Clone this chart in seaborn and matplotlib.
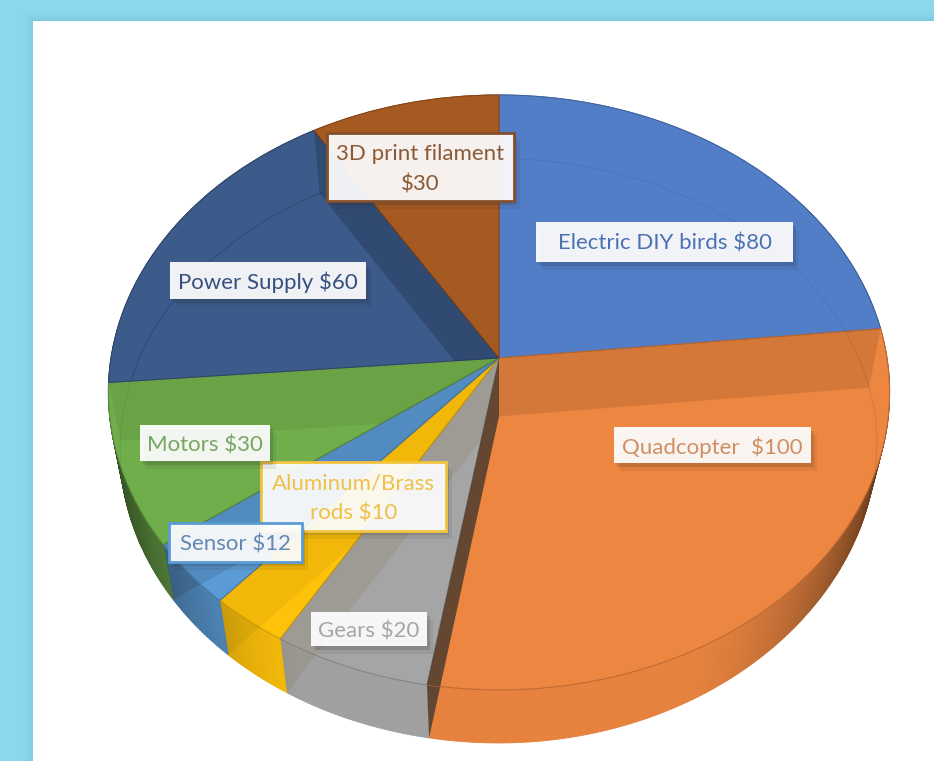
import numpy as np
import matplotlib
matplotlib.use("Agg")
import matplotlib.pyplot as plt
import matplotlib.patheffects as pe
from matplotlib.collections import PolyCollection
from matplotlib.patches import Polygon, Rectangle
from matplotlib.path import Path
from matplotlib.transforms import Transform
import seaborn as sns

sns.set_theme(style="white")
plt.rcParams["font.family"] = ["Lato", "DejaVu Sans"]

# Project budget
items = ["Electric DIY birds", "Quadcopter ", "Gears", "Aluminum/Brass\nrods", "Sensor",
         "Motors", "Power Supply", "3D print filament"]
costs = [80, 100, 20, 10, 12, 30, 60, 30]
label_seps = [" ", " ", " ", " ", " ", " ", " ", "\n"]
slice_colors = ["#527ec7", "#ed8640", "#a5a5a5", "#ffc20a", "#5b9bd5", "#70ae4b", "#3c5a8a", "#a55a22"]
text_colors = ["#4a72b0", "#cf8f63", "#a6a6a6", "#efc04a", "#6488b4", "#76a661", "#34507e", "#8b5a34"]
edge_colors = [None, None, None, "#f3c53f", "#5b9bd5", None, None, "#84502a"]
# Left, top, right, bottom of each label plate, in image pixels
plates = [(536, 222, 793, 262), (614, 427, 811, 463), (311, 612, 427, 646), (261, 462, 446, 531),
          (169, 523, 302, 562), (140, 425, 270, 461), (170, 262, 366, 299), (327, 133, 514, 201)]
# Strength and tint of the inner cut face along each slice boundary, clockwise from twelve o'clock
cut_alpha = [0.0, 0.10, 0.78, 0.16, 0.05, 0.10, 0.06, 0.17]
cut_tone = ["black", "black", "#3d352e", "#7a6a40", "black", "black", "black", "black"]
# Visibility of the far lower edge through each slice
ring_alpha = [0.10, 0.12, 0.0, 0.0, 0.0, 0.10, 0.32, 0.0]

WIDTH, HEIGHT = 934, 761
CX, CY, AX, BY, K = 499.0, 358.0, 388.0, 293.5, 0.1158


def project(u, v):
    """Perspective view of the unit disc, in image pixels."""
    u, v = np.asarray(u, float), np.asarray(v, float)
    d = 1 + K * v
    return CX + AX * u / d, CY - BY * v / d


def project_low(u, v):
    """The same disc at the underside of the slab."""
    u, v = np.asarray(u, float), np.asarray(v, float)
    x, y = project(u, v)
    skew = 12 * np.clip(u, 0, None) * np.clip(-v, 0, None)
    return CX + (x - CX) * 0.97 - skew, y + 58.4 + 5.4 * v


class TiltedDisc(Transform):
    input_dims = output_dims = 2
    has_inverse = False

    def transform_non_affine(self, values):
        values = np.asarray(values, float)
        return np.column_stack(project(values[:, 0], values[:, 1]))


fig = plt.figure(figsize=(WIDTH / 100, HEIGHT / 100), dpi=100)
ax = fig.add_axes([0, 0, 1, 1])

palette = sns.color_palette(slice_colors)
wedges, _ = ax.pie(costs, colors=palette, startangle=90, counterclock=False, radius=1.0)
ax.set_aspect("auto")
ax.set_xlim(0, WIDTH)
ax.set_ylim(HEIGHT, 0)
ax.set_axis_on()
ax.set_xticks([])
ax.set_yticks([])
for side in ax.spines.values():
    side.set_visible(False)
ax.set_facecolor("#8bd8ee")

# White page with a soft shadow along its edge
for grow, a in zip([10, 7, 4, 2], [0.025, 0.03, 0.035, 0.04]):
    ax.add_patch(Rectangle((33 - grow, 21 - grow), WIDTH, HEIGHT, fc="#3a7f95", ec="none", alpha=a, zorder=0.1))
ax.add_patch(Rectangle((33, 21), WIDTH, HEIGHT, fc="white", ec="none", zorder=0.2))

tilted = TiltedDisc() + ax.transData
darker = lambda c, f: tuple(min(1, x * f) for x in c)

# Outer rim of the slab, shaded towards both sides
rim_paths = []
for wedge, color in zip(wedges, palette):
    th = np.radians(np.linspace(wedge.theta1, wedge.theta2, max(3, int(wedge.theta2 - wedge.theta1) * 2)))
    tx, ty = project(np.cos(th), np.sin(th))
    lx, ly = project_low(np.cos(th), np.sin(th))
    quads, shades = [], []
    for i in range(len(th) - 1):
        quads.append([(tx[i], ty[i]), (tx[i + 1], ty[i + 1]), (lx[i + 1], ly[i + 1]), (lx[i], ly[i])])
        side = abs(np.cos(0.5 * (th[i] + th[i + 1])))
        f = 0.97 - 0.56 * np.clip((side - 0.45) / 0.55, 0, 1) ** 1.5
        shades.append(darker(color, f))
    ax.add_collection(PolyCollection(quads, facecolors=shades, edgecolors=shades, linewidths=0.6, zorder=1))
    outline = np.vstack([np.column_stack([tx, ty]), np.column_stack([lx, ly])[::-1]])
    rim_paths.append(Path(np.vstack([outline, outline[0]]), closed=True))

# Top face of the slab
for wedge, color in zip(wedges, palette):
    wedge.set_transform(tilted)
    wedge.set_zorder(2)
    wedge.set_edgecolor(darker(color, 0.8))
    wedge.set_linewidth(0.8)

# Cut faces showing through the top and the rim, each clipped to its own slice
edges = 90 - np.cumsum([0] + costs[:-1]) / sum(costs) * 360
for k, theta in enumerate(edges):
    if cut_alpha[k] == 0:
        continue
    u, v = np.cos(np.radians(theta)), np.sin(np.radians(theta))
    face = [project(0, 0), project(u, v), project_low(u, v), project_low(0, 0)]
    for idx in (k, k - 1):
        on_top = Polygon(face, closed=True, fc=cut_tone[k], ec="none", alpha=cut_alpha[k], zorder=3)
        ax.add_patch(on_top)
        on_top.set_clip_path(wedges[idx])
        on_rim = Polygon(face, closed=True, fc=cut_tone[k], ec="none", alpha=cut_alpha[k], zorder=1.5)
        ax.add_patch(on_rim)
        on_rim.set_clip_path(rim_paths[idx], ax.transData)

# Far lower edge of the slab, faintly visible through the top
sweep = np.radians(np.linspace(0, 360, 361))
rx, ry = project_low(np.cos(sweep), np.sin(sweep))
for wedge, strength in zip(wedges, ring_alpha):
    if strength > 0:
        line, = ax.plot(rx, ry, color="#1d2f55", lw=0.8, alpha=strength, zorder=3)
        line.set_clip_path(wedge)
ax.set_xlim(0, WIDTH)
ax.set_ylim(HEIGHT, 0)

# Value labels on white plates
for name, cost, sep, plate, tc, ec in zip(items, costs, label_seps, plates, text_colors, edge_colors):
    x0, y0, x1, y1 = plate
    box = Rectangle((x0, y0), x1 - x0, y1 - y0, fc=(1, 1, 1, 0.93),
                    ec=ec if ec else "none", lw=2 if ec else 0, zorder=5)
    box.set_path_effects([
        pe.SimplePatchShadow(offset=(4, -6), alpha=0.08, shadow_rgbFace="#202020"),
        pe.SimplePatchShadow(offset=(2, -3), alpha=0.14, shadow_rgbFace="#202020"),
        pe.Normal(),
    ])
    ax.add_patch(box)
    ax.text((x0 + x1) / 2, (y0 + y1) / 2 + 2, f"{name}{sep}${cost}", color=tc, fontsize=16,
            ha="center", va="center", linespacing=1.65, zorder=6)

fig.savefig("out.png", dpi=100, facecolor=ax.get_facecolor())
